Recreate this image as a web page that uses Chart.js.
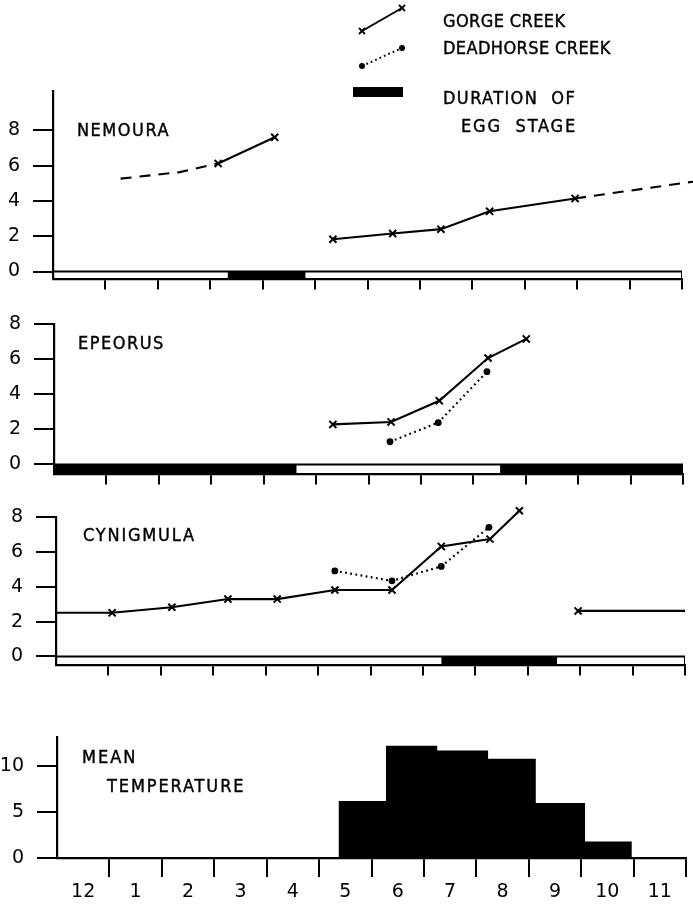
<!DOCTYPE html>
<html>
<head>
<meta charset="utf-8">
<script src="https://cdn.jsdelivr.net/npm/chart.js@4.4.1/dist/chart.umd.min.js"></script>
<style>
  body { margin: 0; background: #fff; }
  #page { position: relative; width: 693px; height: 904px; overflow: hidden; }
  canvas { position: absolute; left: 0; }
  .lbl {
    position: absolute; color: #000; white-space: pre;
    font-family: 'DejaVu Sans Condensed', 'DejaVu Sans', sans-serif;
    font-size: 18px; line-height: 18px; letter-spacing: 1.5px;
    -webkit-text-stroke: 0.4px #000;
  }
  .key { letter-spacing: 0.4px; }
  svg { position: absolute; left: 0; top: 0; }
</style>
</head>
<body>
<div id="page">
  <canvas id="nemoura" width="693" height="236" style="top:67px"></canvas>
  <canvas id="epeorus" width="693" height="198" style="top:300px"></canvas>
  <canvas id="cynigmula" width="693" height="196" style="top:493px"></canvas>
  <canvas id="temp" width="693" height="191" style="top:713px"></canvas>

  <!-- legend symbols -->
  <svg width="693" height="140">
    <line x1="362" y1="31" x2="402" y2="8" stroke="#000" stroke-width="2"/>
    <path d="M359 28 l6 6 M365 28 l-6 6 M399 5 l6 6 M405 5 l-6 6" stroke="#000" stroke-width="1.8"/>
    <line x1="362" y1="66" x2="402" y2="48" stroke="#000" stroke-width="2" stroke-dasharray="1.8 3"/>
    <circle cx="362" cy="66" r="3" fill="#000"/>
    <circle cx="402" cy="48" r="3" fill="#000"/>
    <rect x="353" y="87" width="50" height="10" fill="#000"/>
  </svg>
  <div class="lbl key" style="left:443px;top:12px">GORGE CREEK</div>
  <div class="lbl key" style="left:443px;top:39px">DEADHORSE CREEK</div>
  <div class="lbl key" style="left:443px;top:89px;letter-spacing:1.4px">DURATION  OF</div>
  <div class="lbl key" style="left:461px;top:117px;letter-spacing:1.8px">EGG  STAGE</div>

  <div class="lbl" style="left:77px;top:121px">NEMOURA</div>
  <div class="lbl" style="left:78px;top:334px">EPEORUS</div>
  <div class="lbl" style="left:83px;top:526px;letter-spacing:1.8px">CYNIGMULA</div>
  <div class="lbl" style="left:82px;top:748px;letter-spacing:2px">MEAN</div>
  <div class="lbl" style="left:107px;top:777px;letter-spacing:1.9px">TEMPERATURE</div>
</div>

<script>
// months from December to November, x = months after the start of December
const monthEdges = [0, 1, 2, 3, 4, 5, 6, 7, 8, 9, 10, 11, 12];
const monthLabels = ['12', '1', '2', '3', '4', '5', '6', '7', '8', '9', '10', '11'];
const sizeTicks = [0, 2, 4, 6, 8];
const tempTicks = [0, 5, 10];

// Nemoura (Gorge Creek only)
const nemouraGorgeAX = [3.15, 4.23];
const nemouraGorgeAY = [6.12, 7.60];
const nemouraGorgeBX = [5.34, 6.48, 7.40, 8.33, 9.96];
const nemouraGorgeBY = [1.83, 2.15, 2.40, 3.41, 4.14];
const nemouraDashLeftX = [1.29, 2.42, 3.15];
const nemouraDashLeftY = [5.26, 5.63, 6.12];
const nemouraDashRightX = [9.96, 12.24];
const nemouraDashRightY = [4.14, 5.10];
const nemouraEgg = [[3.33, 4.82]];

// Epeorus
const epeorusGorgeX = [5.32, 6.43, 7.35, 8.28, 9.01];
const epeorusGorgeY = [2.29, 2.43, 3.64, 6.08, 7.17];
const epeorusDeadX = [6.41, 7.33, 8.26];
const epeorusDeadY = [1.30, 2.39, 5.30];
const epeorusEgg = [[0, 4.63], [8.51, 12]];

// Cynigmula
const cynGorgeAX = [0, 1.07, 2.21, 3.28, 4.22, 5.32, 6.41, 7.35, 8.28, 8.84];
const cynGorgeAY = [2.51, 2.51, 2.83, 3.30, 3.30, 3.82, 3.82, 6.33, 6.75, 8.38];
const cynGorgeBX = [9.96, 12];
const cynGorgeBY = [2.62, 2.62];
const cynDeadX = [5.32, 6.41, 7.35, 8.26];
const cynDeadY = [4.92, 4.35, 5.18, 7.43];
const cynEgg = [[7.35, 9.56]];

// mean temperature, left edge of each period and its value
const tempX = [0, 5.39, 6.29, 7.24, 8.21, 9.12, 10.06, 10.95, 12];
const tempY = [0, 6.1, 12.1, 11.6, 10.7, 5.9, 1.7, 0, 0];

const pts = (xs, ys) => xs.map((x, i) => ({ x: x, y: ys[i] }));
// no marker where a line just runs off the axis ends
const markerAt = r => ctx => (ctx.raw && (ctx.raw.x <= 0 || ctx.raw.x >= 12)) ? 0 : r;

function gorge(xs, ys) {
  return {
    data: pts(xs, ys), borderColor: '#000', borderWidth: 2.1,
    pointStyle: 'crossRot', pointRadius: markerAt(5), pointBorderWidth: 2,
    pointBorderColor: '#000', pointBackgroundColor: '#000', clip: false
  };
}
function deadhorse(xs, ys) {
  return {
    data: pts(xs, ys), borderColor: '#000', borderWidth: 2.2, borderDash: [1.8, 3.4],
    pointStyle: 'circle', pointRadius: 3.4, pointBorderWidth: 0,
    pointBackgroundColor: '#000', clip: false
  };
}
function dashed(xs, ys) {
  return {
    data: pts(xs, ys), borderColor: '#000', borderWidth: 2.1, borderDash: [11, 8],
    pointRadius: 0, clip: false
  };
}
// egg stage strip: black pieces between 0 and the bottom of the axis
function eggSets(ranges, yMin) {
  const sets = ranges.map(r => ({
    data: [{ x: r[0], y: 0 }, { x: r[1], y: 0 }],
    borderWidth: 0, pointRadius: 0, fill: 'start', backgroundColor: '#000'
  }));
  sets.unshift({
    data: [{ x: 0, y: 0 }, { x: 12, y: 0 }, { x: 12, y: yMin }],
    borderColor: '#000', borderWidth: 2, pointRadius: 0, fill: false
  });
  return sets;
}

function makePanel(id, cfg) {
  const right = 693 - cfg.left - 629;
  new Chart(document.getElementById(id), {
    type: 'line',
    data: { datasets: cfg.datasets },
    options: {
      responsive: false,
      animation: false,
      layout: { padding: { top: 20, left: 0, right: right, bottom: 0 } },
      plugins: { legend: { display: false }, tooltip: { enabled: false } },
      elements: { line: { tension: 0 } },
      scales: {
        x: {
          type: 'linear', min: 0, max: 12,
          afterFit: s => { s.height = cfg.xHeight; },
          afterBuildTicks: s => { s.ticks = monthEdges.map(v => ({ value: v })); },
          border: { display: true, color: '#000', width: 2.2 },
          grid: {
            drawOnChartArea: false, drawTicks: true, tickLength: cfg.tickLen,
            color: ctx => ctx.index === 0 ? 'rgba(0,0,0,0)' : '#000', lineWidth: 2
          },
          ticks: {
            display: cfg.labels, autoSkip: false, maxRotation: 0, labelOffset: 26.2,
            padding: 4, color: '#000',
            font: { family: 'DejaVu Sans', size: 19 },
            callback: (v, i) => monthLabels[i] ?? ''
          }
        },
        y: {
          min: cfg.yMin, max: cfg.yMax,
          afterFit: s => { s.width = cfg.left; },
          afterBuildTicks: s => { s.ticks = cfg.yTicks.map(v => ({ value: v })); },
          border: { display: true, color: '#000', width: 2.2 },
          grid: { drawOnChartArea: false, drawTicks: true, tickLength: 20, color: '#000', lineWidth: 2 },
          ticks: { color: '#000', padding: 13, font: { family: 'DejaVu Sans', size: 19 } }
        }
      }
    }
  });
}

makePanel('nemoura', {
  left: 53, yMin: -0.4, yMax: 10.2, yTicks: sizeTicks, xHeight: 14, tickLen: 11, labels: false,
  datasets: [
    gorge(nemouraGorgeAX, nemouraGorgeAY),
    gorge(nemouraGorgeBX, nemouraGorgeBY),
    dashed(nemouraDashLeftX, nemouraDashLeftY),
    dashed(nemouraDashRightX, nemouraDashRightY)
  ].concat(eggSets(nemouraEgg, -0.4))
});

makePanel('epeorus', {
  left: 54, yMin: -0.52, yMax: 8, yTicks: sizeTicks, xHeight: 14, tickLen: 11, labels: false,
  datasets: [
    gorge(epeorusGorgeX, epeorusGorgeY),
    deadhorse(epeorusDeadX, epeorusDeadY)
  ].concat(eggSets(epeorusEgg, -0.52))
});

makePanel('cynigmula', {
  left: 56, yMin: -0.47, yMax: 8, yTicks: sizeTicks, xHeight: 14, tickLen: 11, labels: false,
  datasets: [
    gorge(cynGorgeAX, cynGorgeAY),
    gorge(cynGorgeBX, cynGorgeBY),
    deadhorse(cynDeadX, cynDeadY)
  ].concat(eggSets(cynEgg, -0.47))
});

makePanel('temp', {
  left: 57, yMin: 0, yMax: 13.1, yTicks: tempTicks, xHeight: 46, tickLen: 19, labels: true,
  datasets: [{
    data: pts(tempX, tempY), stepped: true, fill: 'origin',
    backgroundColor: '#000', borderColor: '#000', borderWidth: 1.5, pointRadius: 0
  }]
});
</script>
</body>
</html>
